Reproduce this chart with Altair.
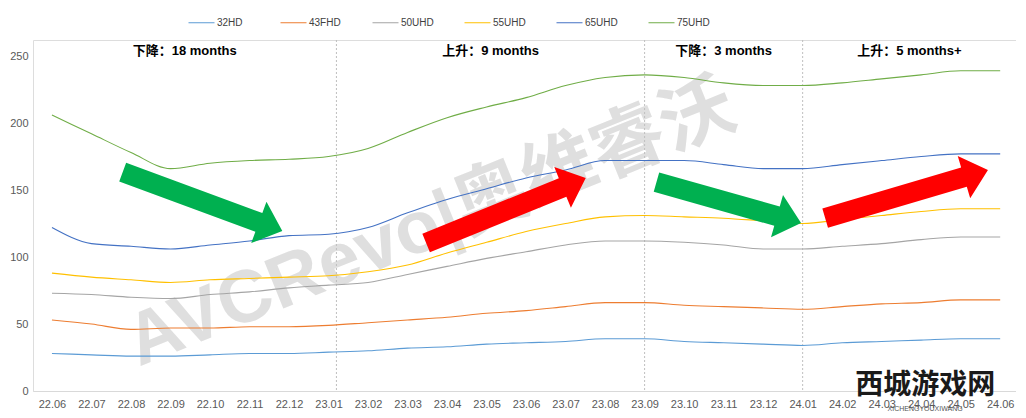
import math
import json
import altair as alt
import pandas as pd

months = ["22.06", "22.07", "22.08", "22.09", "22.10", "22.11", "22.12",
          "23.01", "23.02", "23.03", "23.04", "23.05", "23.06", "23.07",
          "23.08", "23.09", "23.10", "23.11", "23.12", "24.01", "24.02",
          "24.03", "24.04", "24.05", "24.06"]
series = ["32HD", "43FHD", "50UHD", "55UHD", "65UHD", "75UHD"]
colors = ["#5B9BD5", "#ED7D31", "#A5A5A5", "#FFC000", "#4472C4", "#70AD47"]

v32 = [28, 27, 26, 26, 27, 28, 28, 29, 30, 32, 33, 35, 36, 37, 39, 39, 37, 36, 35, 34, 36, 37, 38, 39, 39]
v43 = [53, 50, 46, 47, 47, 48, 48, 49, 51, 53, 55, 58, 60, 63, 66, 66, 64, 63, 62, 61, 63, 65, 66, 68, 68]
v50 = [73, 72, 70, 69, 72, 74, 77, 79, 81, 87, 93, 99, 104, 109, 112, 112, 111, 109, 106, 106, 108, 110, 113, 115, 115]
v55 = [88, 85, 83, 81, 83, 84, 85, 86, 89, 94, 103, 111, 119, 125, 130, 131, 130, 129, 127, 125, 128, 131, 134, 136, 136]
v65 = [122, 110, 108, 106, 109, 112, 116, 117, 122, 133, 143, 151, 159, 165, 172, 172, 172, 169, 166, 166, 169, 172, 175, 177, 177]
v75 = [206, 192, 178, 166, 170, 172, 173, 175, 181, 193, 204, 212, 219, 228, 234, 236, 234, 230, 228, 228, 230, 233, 236, 239, 239]

# phase boundaries (month index) and phase labels
boundaries = [7.2, 15.0, 19.0]
phase_labels = ["下降：18 months", "上升：9 months", "下降：3 months", "上升：5 months+"]

# arrows: tail (month idx, value) -> tip (month idx, value)
arrow_tail_x = [1.79, 9.47, 15.30, 19.57]
arrow_tail_y = [163.4, 110.4, 156.0, 129.1]
arrow_tip_x = [5.83, 13.51, 18.96, 23.69]
arrow_tip_y = [119.4, 159.0, 125.4, 164.9]
arrow_colors = ["#00B050", "#FF0000", "#00B050", "#FF0000"]

W, H = 983, 351
XMIN, XMAX = -0.48, 24.4
YMIN, YMAX = 0, 262
kx = W / (XMAX - XMIN)
ky = H / (YMAX - YMIN)

FONT = "Liberation Sans, Noto Sans CJK SC, sans-serif"

rows = []
for name, vals in zip(series, [v32, v43, v50, v55, v65, v75]):
    for i, v in enumerate(vals):
        rows.append({"i": i, "series": name, "value": v})
df = pd.DataFrame(rows)

xscale = alt.Scale(domain=[XMIN, XMAX], nice=False, zero=False)
yscale = alt.Scale(domain=[YMIN, YMAX], nice=False)

label_expr = json.dumps(months) + "[datum.value]"

x_enc = alt.X("i:Q", scale=xscale,
              axis=alt.Axis(values=list(range(len(months))), labelExpr=label_expr,
                            title=None, grid=False, ticks=False, domainColor="#D9D9D9",
                            labelColor="#595959", labelFontSize=11, labelPadding=7,
                            labelAngle=0, labelOverlap=False, labelFont=FONT))
y_enc = alt.Y("value:Q", scale=yscale,
              axis=alt.Axis(values=[0, 50, 100, 150, 200, 250], title=None, grid=False,
                            ticks=False, domain=False, labelColor="#595959",
                            labelFontSize=11, labelPadding=5, labelFont=FONT))

# watermark
wm = alt.Chart(pd.DataFrame({"i": [9.6], "value": [124], "t": ["AVCRevo|奥维睿沃"]})).mark_text(
    fontSize=74, fontWeight="bold", angle=338, color="#DADADA", opacity=0.85,
    align="center", baseline="middle", font=FONT
).encode(x=alt.X("i:Q", scale=xscale), y=alt.Y("value:Q", scale=yscale), text="t:N")

rules = alt.Chart(pd.DataFrame({"i": boundaries})).mark_rule(
    color="#BFBFBF", strokeDash=[2, 2], strokeWidth=1
).encode(x=alt.X("i:Q", scale=xscale))

lines = alt.Chart(df).mark_line(strokeWidth=1.1, interpolate="monotone").encode(
    x=x_enc, y=y_enc,
    color=alt.Color("series:N", scale=alt.Scale(domain=series, range=colors),
                    legend=alt.Legend(title=None, orient="none", legendX=155, legendY=-31,
                                      direction="horizontal", columns=6, gridAlign="all",
                                      symbolType="stroke", symbolSize=676, symbolStrokeWidth=1,
                                      labelFontSize=10, labelColor="#404040", labelFont=FONT,
                                      columnPadding=28, labelOffset=2)),
    order="i:Q",
)

# phase labels
edges = [XMIN] + boundaries + [XMAX]
centers = [(edges[k] + edges[k + 1]) / 2 for k in range(len(phase_labels))]
phase_df = pd.DataFrame({"i": centers, "value": [254] * len(centers), "t": phase_labels})
phase = alt.Chart(phase_df).mark_text(
    fontSize=13, fontWeight="bold", color="#000000", align="center", baseline="middle", font=FONT
).encode(x=alt.X("i:Q", scale=xscale), y=alt.Y("value:Q", scale=yscale), text="t:N")

# block arrows
arrow_layers = []
head_len, head_hw, shaft_hw = 25.0, 22.0, 10.0
for tx, ty, px, py, col in zip(arrow_tail_x, arrow_tail_y, arrow_tip_x, arrow_tip_y, arrow_colors):
    dx = (px - tx) * kx
    dy = -(py - ty) * ky
    L = math.hypot(dx, dy)
    ang = math.degrees(math.atan2(dy, dx)) % 360
    h = L / 2
    s = shaft_hw / h
    hw = head_hw / h
    hb = 1 - head_len / h
    path = (f"M-1,{-s:.4f} L{hb:.4f},{-s:.4f} L{hb:.4f},{-hw:.4f} L1,0 "
            f"L{hb:.4f},{hw:.4f} L{hb:.4f},{s:.4f} L-1,{s:.4f} Z")
    cdf = pd.DataFrame({"i": [(tx + px) / 2], "value": [(ty + py) / 2]})
    arrow_layers.append(
        alt.Chart(cdf).mark_point(shape=path, size=L * L, angle=ang, filled=True,
                                  fill=col, color=col, strokeWidth=0, opacity=1)
        .encode(x=alt.X("i:Q", scale=xscale), y=alt.Y("value:Q", scale=yscale))
    )

# site watermark bottom-right
logo_df = pd.DataFrame({"i": [22.1, 22.1], "value": [4.0, -13.5],
                        "t": ["西城游戏网", "XICHENGYOUXIWANG"]})
logo_big = alt.Chart(logo_df.iloc[[0]]).mark_text(
    fontSize=28, fontWeight="bold", color="#1A1A1A", align="center", baseline="middle",
    font="Noto Sans CJK SC, sans-serif", clip=False
).encode(x=alt.X("i:Q", scale=xscale), y=alt.Y("value:Q", scale=yscale), text="t:N")
logo_small = alt.Chart(logo_df.iloc[[1]]).mark_text(
    fontSize=7, color="#555555", align="center", baseline="middle", font=FONT, clip=False
).encode(x=alt.X("i:Q", scale=xscale), y=alt.Y("value:Q", scale=yscale), text="t:N")

chart = alt.layer(wm, rules, lines, *arrow_layers, phase, logo_big, logo_small).properties(
    width=W, height=H,
    autosize=alt.AutoSizeParams(type="none"),
    padding={"left": 25, "top": 32, "right": 0, "bottom": 22},
).configure_view(stroke=None).configure(font=FONT)

chart.save("out.html", embed_options={"renderer": "svg", "actions": False})
